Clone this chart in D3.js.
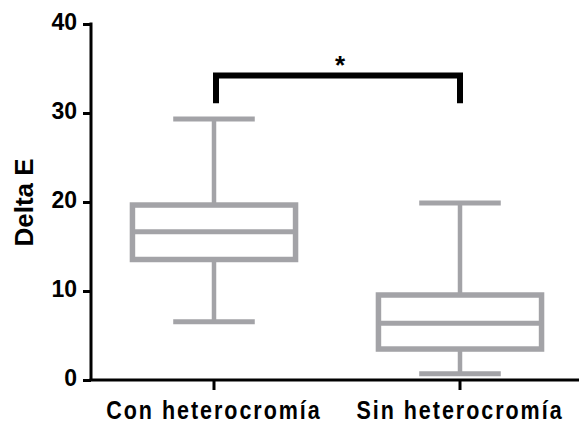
<!DOCTYPE html>
<html><head><meta charset="utf-8">
<script src="https://cdn.jsdelivr.net/npm/d3@7"></script>
<style>
html,body{margin:0;padding:0;background:#fff;}
svg{display:block;font-family:"Liberation Sans",Arial,sans-serif;font-weight:bold;}
</style></head>
<body><svg id="c" width="579" height="423"></svg>
<script>
const categories = ["Con heterocromía", "Sin heterocromía"];
const whiskerLow = [6.55, 0.71];
const q1 = [13.54, 3.48];
const median = [16.65, 6.37];
const q3 = [19.66, 9.55];
const whiskerHigh = [29.33, 19.89];
const yTicks = [0, 10, 20, 30, 40];
const sigLabel = "*";
const sigBar = 34.2;
const sigFoot = 31.1;
const yLabel = "Delta E";

const svg = d3.select("#c");
const y = d3.scaleLinear().domain([0, 40]).range([380, 24]);
const x = d3.scaleBand().domain(categories).range([91, 583]).padding(0);
const cx = c => x(c) + x.bandwidth() / 2;
const boxW = x.bandwidth() * 0.663;
const capW = boxW * 0.5;
const gray = "#a3a3a7";
const ff = "'Liberation Sans',Arial,sans-serif";

// axes
const yAxis = svg.append("g").attr("transform", "translate(91,0)")
  .call(d3.axisLeft(y).tickValues(yTicks).tickSize(8).tickPadding(6));
yAxis.select(".domain").attr("stroke", "#000").attr("stroke-width", 3).attr("d", `M0,${y(40)-1.5}V${y(0)}`);
yAxis.selectAll(".tick line").attr("stroke", "#000").attr("stroke-width", 3);
yAxis.selectAll(".tick text").attr("fill", "#000").style("font-size", "23px")
  .style("font-family", ff).style("font-weight", "bold").attr("dy", "0.25em");

const xAxis = svg.append("g").attr("transform", "translate(0,380)")
  .call(d3.axisBottom(x).tickSize(10).tickPadding(6));
xAxis.select(".domain").attr("stroke", "#000").attr("stroke-width", 3).attr("d", "M89.5,0H583");
xAxis.selectAll(".tick line").attr("stroke", "#000").attr("stroke-width", 3);
xAxis.selectAll(".tick text").attr("fill", "#000").style("font-size", "25px").style("letter-spacing", "2.3px")
  .style("font-family", ff).style("font-weight", "bold")
  .attr("y", 39).attr("dy", 0).attr("transform", "scale(0.86,1)");

// y label
svg.append("text").attr("transform", `translate(33,${(156+249)/2}) rotate(-90)`)
  .attr("text-anchor", "middle").style("font-size", "26px").attr("fill", "#000").text(yLabel);

// boxes
const g = svg.append("g");
categories.forEach((c, i) => {
  const xc = cx(c);
  g.append("line").attr("x1", xc).attr("x2", xc).attr("y1", y(whiskerHigh[i])).attr("y2", y(q3[i]))
    .attr("stroke", gray).attr("stroke-width", 4.5);
  g.append("line").attr("x1", xc).attr("x2", xc).attr("y1", y(q1[i])).attr("y2", y(whiskerLow[i]))
    .attr("stroke", gray).attr("stroke-width", 4.5);
  [whiskerHigh[i], whiskerLow[i]].forEach(v => {
    g.append("line").attr("x1", xc - capW/2).attr("x2", xc + capW/2).attr("y1", y(v)).attr("y2", y(v))
      .attr("stroke", gray).attr("stroke-width", 5);
  });
  g.append("rect").attr("x", xc - boxW/2).attr("width", boxW).attr("y", y(q3[i])).attr("height", y(q1[i]) - y(q3[i]))
    .attr("fill", "none").attr("stroke", gray).attr("stroke-width", 5.5);
  g.append("line").attr("x1", xc - boxW/2).attr("x2", xc + boxW/2).attr("y1", y(median[i])).attr("y2", y(median[i]))
    .attr("stroke", gray).attr("stroke-width", 5);
});

// significance bracket
const x1 = cx(categories[0]) + 2, x2 = cx(categories[1]);
svg.append("path").attr("d", `M${x1},${y(sigFoot)}V${y(sigBar)}H${x2}V${y(sigFoot)}`)
  .attr("fill", "none").attr("stroke", "#000").attr("stroke-width", 6).attr("stroke-linejoin", "miter");
svg.append("text").attr("x", (x1 + x2) / 2 + 2).attr("y", y(sigBar) - 2).attr("text-anchor", "middle")
  .style("font-size", "26px").attr("fill", "#000").text(sigLabel);
</script></body></html>
